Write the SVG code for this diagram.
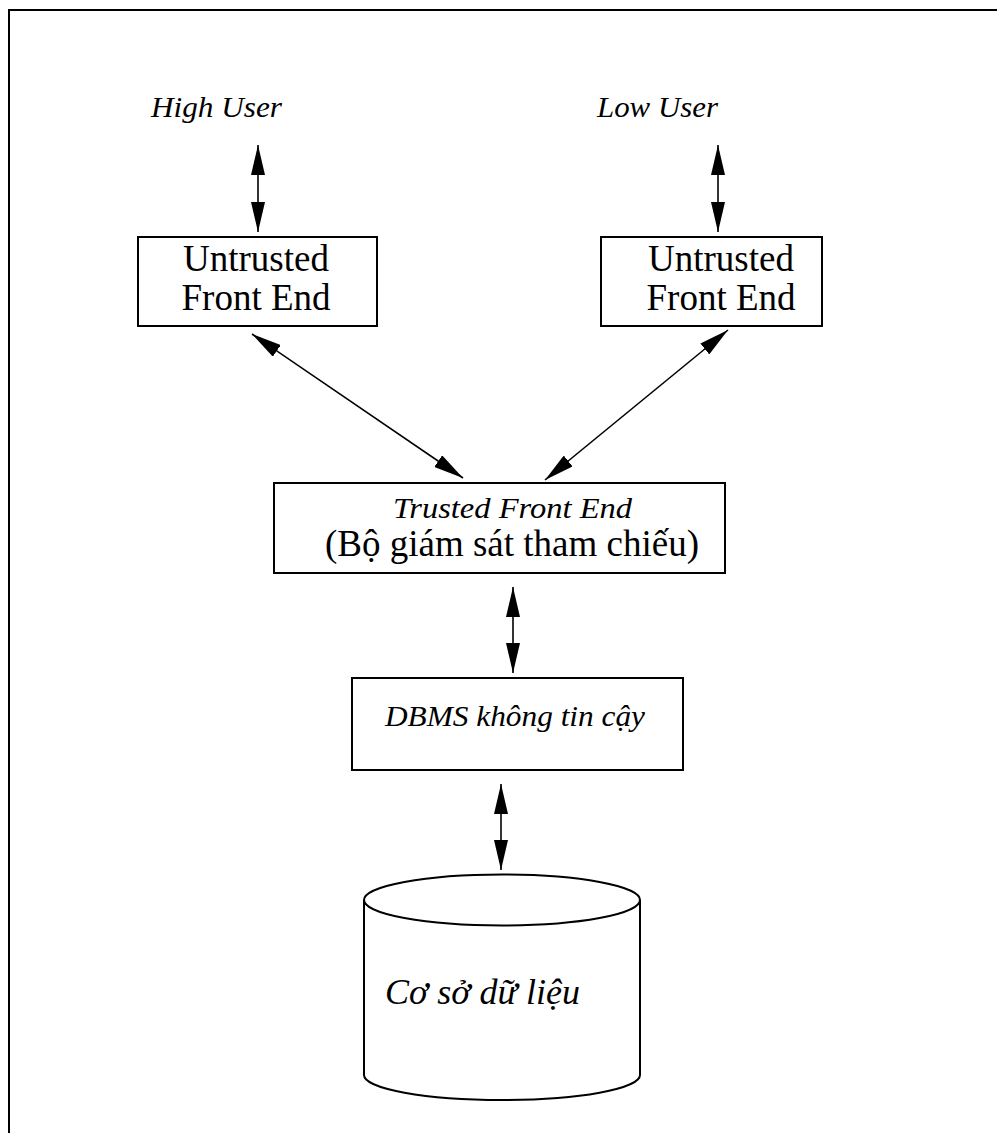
<svg xmlns="http://www.w3.org/2000/svg" width="997" height="1133" viewBox="0 0 997 1133">
  <style>
    .frame { fill: none; stroke: #000; stroke-width: 2; }
    .box { fill: #fff; stroke: #000; stroke-width: 2; }
    .link { fill: none; stroke: #000; stroke-width: 1.6; marker-start: url(#head); marker-end: url(#head); }
    .t { font-family: "Liberation Serif", "Times New Roman", serif; fill: #000; }
    .it { font-style: italic; }
  </style>
  <defs>
    <marker id="head" markerUnits="userSpaceOnUse" markerWidth="31" markerHeight="14" refX="30" refY="7" orient="auto-start-reverse">
      <path d="M0,0 L30,7 L0,14 z" fill="#000"/>
    </marker>
  </defs>

  <rect width="997" height="1133" fill="#fff"/>
  <!-- outer frame, open at right and bottom -->
  <path class="frame" d="M9,1133 V10 H997"/>

  <g id="high-user">
    <text class="t it" x="151" y="117" font-size="30" textLength="131" lengthAdjust="spacingAndGlyphs">High User</text>
  </g>
  <g id="low-user">
    <text class="t it" x="597" y="117" font-size="30" textLength="121" lengthAdjust="spacingAndGlyphs">Low User</text>
  </g>

  <g id="untrusted-left">
    <rect class="box" x="138" y="237" width="239" height="89"/>
    <text class="t" x="256" y="271" font-size="37" text-anchor="middle">Untrusted</text>
    <text class="t" x="256" y="310" font-size="37" text-anchor="middle">Front End</text>
  </g>

  <g id="untrusted-right">
    <rect class="box" x="601" y="237" width="221" height="89"/>
    <text class="t" x="721" y="271" font-size="37" text-anchor="middle">Untrusted</text>
    <text class="t" x="721" y="310" font-size="37" text-anchor="middle">Front End</text>
  </g>

  <g id="trusted-front-end">
    <rect class="box" x="274" y="483" width="451" height="90"/>
    <text class="t it" x="393" y="518" font-size="30" textLength="239" lengthAdjust="spacingAndGlyphs">Trusted Front End</text>
    <text class="t" x="512" y="556" font-size="37" text-anchor="middle">(Bộ giám sát tham chiếu)</text>
  </g>

  <g id="dbms">
    <rect class="box" x="352" y="678" width="331" height="92"/>
    <text class="t it" x="385" y="726" font-size="30" textLength="260" lengthAdjust="spacingAndGlyphs">DBMS không tin cậy</text>
  </g>

  <g id="database">
    <path class="box" d="M364,900 V1075 A138,25 0 0 0 640,1075 V900"/>
    <ellipse class="box" cx="502" cy="900" rx="138" ry="25.5"/>
    <text class="t it" x="385" y="1004" font-size="35" textLength="195" lengthAdjust="spacingAndGlyphs">Cơ sở dữ liệu</text>
  </g>

  <g id="connectors">
    <line class="link" x1="258" y1="145" x2="258" y2="232"/>
    <line class="link" x1="718" y1="145" x2="718" y2="232"/>
    <line class="link" x1="252" y1="334" x2="463" y2="478"/>
    <line class="link" x1="728" y1="330" x2="545" y2="480"/>
    <line class="link" x1="513" y1="587" x2="513" y2="673"/>
    <line class="link" x1="501" y1="784" x2="501" y2="870"/>
  </g>
</svg>
